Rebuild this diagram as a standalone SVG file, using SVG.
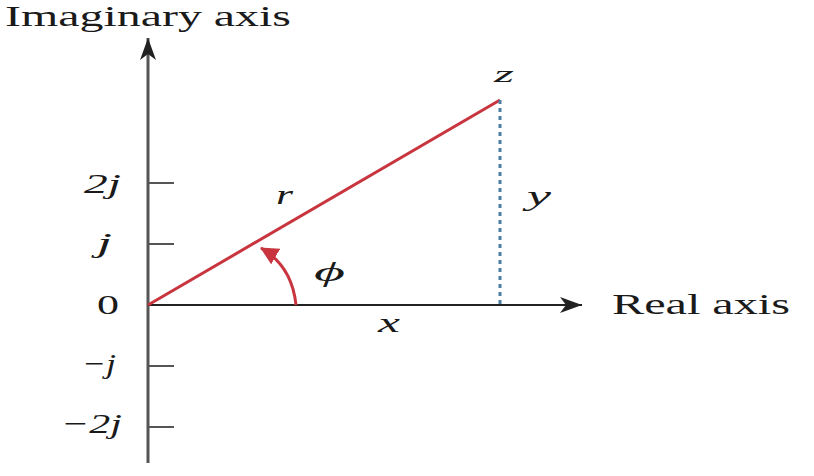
<svg xmlns="http://www.w3.org/2000/svg" width="814" height="476" viewBox="0 0 814 476">
<style>
.t{font-family:"Liberation Serif","Times New Roman",serif;fill:#1a1a1a}
.i{font-style:italic}
.tick{stroke:#555;stroke-width:2}
</style>
<defs>
<marker id="ah" viewBox="0 0 22 16" refX="22" refY="8" markerWidth="22" markerHeight="16" markerUnits="userSpaceOnUse" orient="auto">
<path d="M0,0 L22,8 L0,16 L6,8 Z" fill="#222"/>
</marker>
<marker id="rh" viewBox="0 0 18 18" refX="17" refY="9" markerWidth="18" markerHeight="18" markerUnits="userSpaceOnUse" orient="auto">
<path d="M0,0 L18,9 L0,18 Z" fill="#c8353f"/>
</marker>
</defs>
<rect width="814" height="476" fill="#fff"/>
<g id="axes">
<line x1="148" y1="463" x2="148" y2="38" stroke="#555" stroke-width="3" marker-end="url(#ah)"/>
<line x1="148" y1="305" x2="582" y2="305" stroke="#222" stroke-width="2" marker-end="url(#ah)"/>
<line class="tick" x1="148" y1="183" x2="174" y2="183"/>
<line class="tick" x1="148" y1="244" x2="174" y2="244"/>
<line class="tick" x1="148" y1="366" x2="174" y2="366"/>
<line class="tick" x1="148" y1="427" x2="174" y2="427"/>
</g>
<g id="connectors">
<line id="r-line" x1="148" y1="305" x2="500" y2="100" stroke="#c8353f" stroke-width="3"/>
<line id="y-line" x1="500" y1="100" x2="500" y2="304" stroke="#4f7ea3" stroke-width="3" stroke-dasharray="4,4"/>
<path id="phi-arc" d="M296,305 Q292,266 261,248" fill="none" stroke="#c8353f" stroke-width="3" marker-end="url(#rh)"/>
</g>
<g id="labels">
<text class="t" x="5" y="26" font-size="30" textLength="286" lengthAdjust="spacingAndGlyphs">Imaginary axis</text>
<text class="t" x="612" y="314" font-size="30" textLength="178" lengthAdjust="spacingAndGlyphs">Real axis</text>
<text class="t" x="97" y="314" font-size="28" textLength="22" lengthAdjust="spacingAndGlyphs">0</text>
<text class="t i" x="84" y="193" font-size="28" textLength="37" lengthAdjust="spacingAndGlyphs">2j</text>
<text class="t i" x="97" y="252" font-size="28" textLength="15" lengthAdjust="spacingAndGlyphs">j</text>
<text class="t i" x="82" y="373" font-size="28" textLength="34" lengthAdjust="spacingAndGlyphs">−j</text>
<text class="t i" x="61" y="433" font-size="28" textLength="61" lengthAdjust="spacingAndGlyphs">−2j</text>
<text class="t i" x="276" y="204" font-size="28" textLength="17" lengthAdjust="spacingAndGlyphs">r</text>
<text class="t i" x="527" y="205" font-size="28" textLength="24" lengthAdjust="spacingAndGlyphs">y</text>
<text class="t i" x="494" y="82" font-size="24" textLength="20" lengthAdjust="spacingAndGlyphs">z</text>
<text class="t i" x="314" y="281" font-size="28" textLength="31" lengthAdjust="spacingAndGlyphs">ϕ</text>
<text class="t i" x="378" y="332" font-size="28" textLength="22" lengthAdjust="spacingAndGlyphs">x</text>
</g>
</svg>
